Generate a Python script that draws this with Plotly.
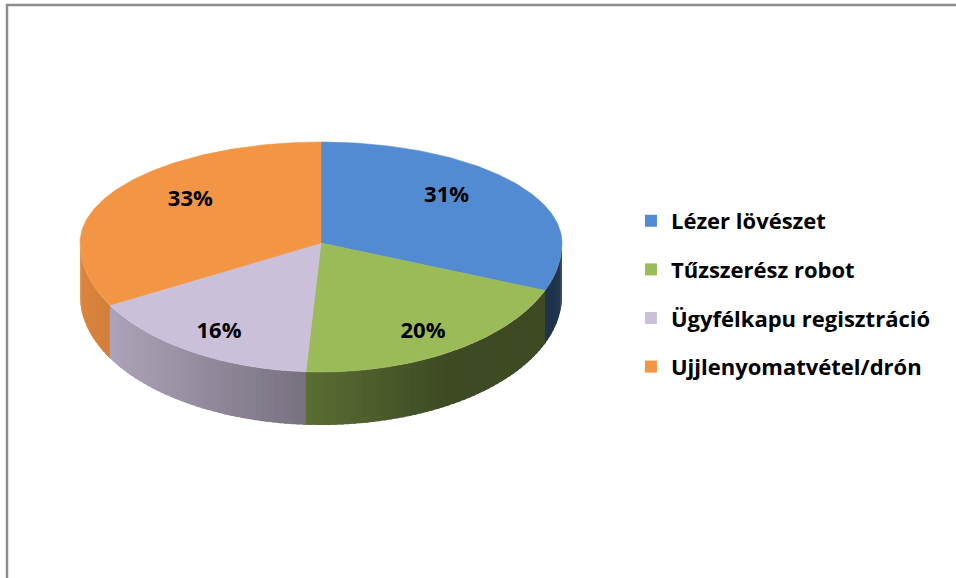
import numpy as np
import plotly.graph_objects as go

labels = ["Lézer lövészet", "Tűzszerész robot", "Ügyfélkapu regisztráció", "Ujjlenyomatvétel/drón"]
values = [31, 20, 16, 33]
top_colors = ["#528BD2", "#9BBB59", "#CBC0DA", "#F29646"]
side_colors = [(79, 129, 189), (155, 187, 89), (204, 193, 218), (247, 150, 70)]

# pie geometry (pixel space of the page)
CX, CY = 321, 243
RX = 241
RY_FAR, RY_NEAR = 101, 129
DEPTH = 53
STEP = 1.5


def pt(theta_deg, frac=1.0):
    t = np.radians(theta_deg)
    s = np.sin(t)
    ry = np.where(s > 0, RY_FAR, RY_NEAR)
    return CX + RX * frac * np.cos(t), CY - ry * frac * s


def shade(rgb, theta_deg):
    # light comes from the left: side wall darkens towards the right
    f = max(0.4, 0.6 - 0.32 * (np.cos(np.radians(theta_deg)) + 0.1))
    return "rgb(%d,%d,%d)" % tuple(int(c * f) for c in rgb)


total = sum(values)
cum = np.concatenate([[0], np.cumsum(values)]) / total
starts = 90 - 360 * cum[:-1]
ends = 90 - 360 * cum[1:]

fig = go.Figure()

# side walls (front half only, angles between -180 and 0)
for i in range(len(values)):
    a0 = min(starts[i], 0)
    a1 = max(ends[i], -180)
    if a0 <= a1:
        continue
    steps = np.arange(a0, a1 - 1e-9, -STEP)
    if steps[-1] > a1:
        steps = np.append(steps, a1)
    for t0, t1 in zip(steps[:-1], steps[1:]):
        t1e = max(t1 - STEP * 0.5, -180)  # overlap to hide seams
        x0, y0 = pt(t0)
        x1, y1 = pt(t1e)
        c = shade(side_colors[i], (t0 + t1) / 2)
        fig.add_trace(go.Scatter(
            x=[x0, x1, x1, x0, x0], y=[y0, y1, y1 + DEPTH, y0 + DEPTH, y0],
            fill="toself", fillcolor=c, mode="lines", line=dict(width=0),
            hoverinfo="skip", showlegend=False))

# top surfaces
for i in range(len(values)):
    th = np.linspace(starts[i], ends[i], int(abs(starts[i] - ends[i])) + 2)
    ax, ay = pt(th)
    fig.add_trace(go.Scatter(
        x=np.concatenate([[CX], ax, [CX]]), y=np.concatenate([[CY], ay, [CY]]),
        fill="toself", fillcolor=top_colors[i], mode="lines",
        line=dict(color=top_colors[i], width=0.6),
        hoverinfo="skip", showlegend=False))

# percentage labels
mids = np.radians((starts + ends) / 2)
far = np.sin(mids) > 0
lx = CX + RX * np.where(far, 0.63, 0.79) * np.cos(mids)
ly = CY - np.where(far, RY_FAR, RY_NEAR) * 0.82 * np.sin(mids)
fig.add_trace(go.Scatter(
    x=lx, y=ly, mode="text", text=["%d%%" % v for v in values],
    textfont=dict(family="Open Sans", size=22, color="black", weight="bold"),
    hoverinfo="skip", showlegend=False))

# legend entries
for i, name in enumerate(labels):
    fig.add_trace(go.Scatter(
        x=[None], y=[None], mode="markers", name=name, legendgroup=name,
        marker=dict(symbol="square", size=12, color=top_colors[i])))

fig.update_layout(
    width=956, height=578,
    margin=dict(l=0, r=0, t=0, b=0),
    plot_bgcolor="white", paper_bgcolor="white",
    legend=dict(x=0.66, y=0.654, xanchor="left", yanchor="top",
                font=dict(family="Open Sans", size=22, color="black", weight="bold"),
                tracegroupgap=17, bgcolor="rgba(0,0,0,0)"),
    shapes=[
        dict(type="line", xref="paper", yref="paper", x0=6 / 956, x1=1, y0=1 - 5 / 578, y1=1 - 5 / 578,
             line=dict(color="#8C8C8C", width=2.5)),
        dict(type="line", xref="paper", yref="paper", x0=7 / 956, x1=7 / 956, y0=0, y1=1 - 4 / 578,
             line=dict(color="#8C8C8C", width=2.5)),
    ],
)
fig.update_xaxes(range=[0, 956], visible=False)
fig.update_yaxes(range=[578, 0], visible=False)

fig.write_html("out.html", config={"displayModeBar": False},
               post_script="document.body.style.margin='0';")
